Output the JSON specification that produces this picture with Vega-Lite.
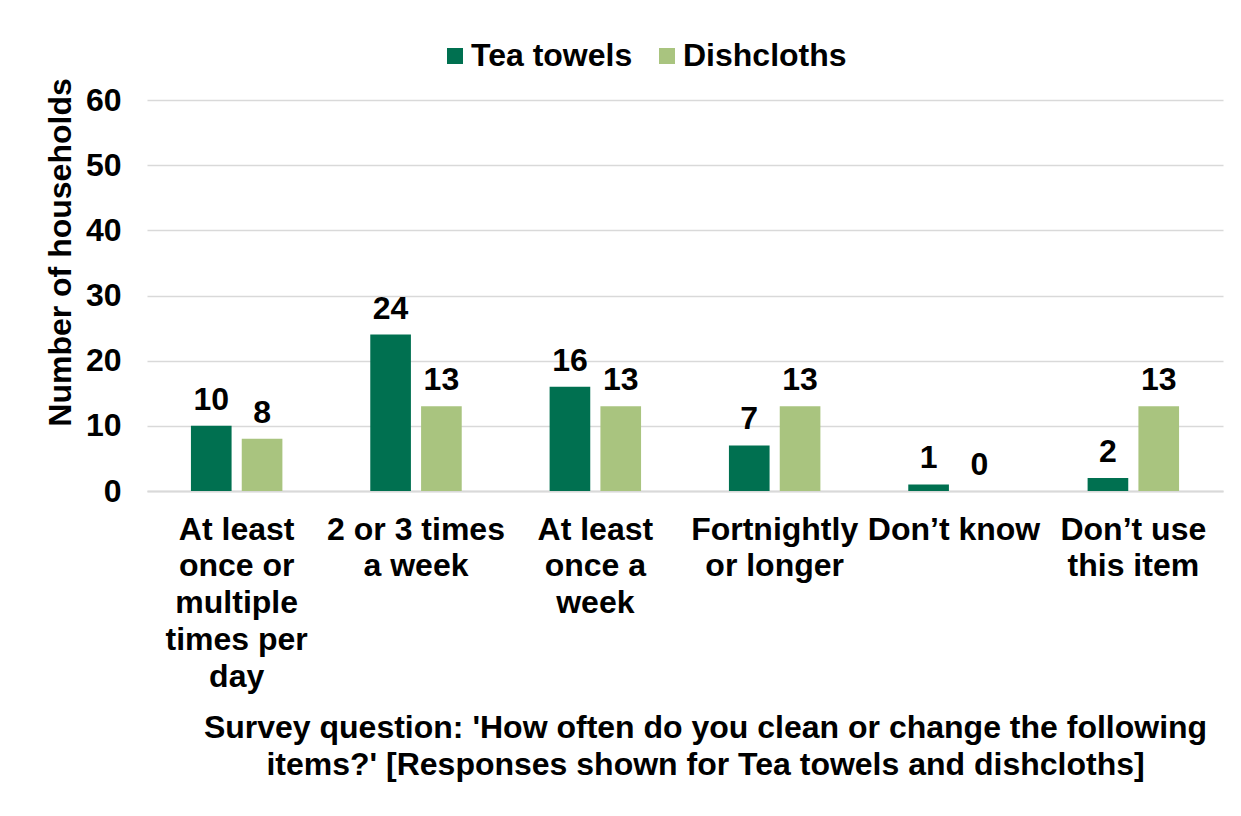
{
  "$schema": "https://vega.github.io/schema/vega-lite/v6.json",
  "width": 1076,
  "height": 391,
  "autosize": {"type": "none"},
  "padding": {"left": 147, "top": 100, "right": 18, "bottom": 325},
  "background": "white",
  "config": {
    "font": "Liberation Sans",
    "view": {"stroke": null},
    "text": {"font": "Liberation Sans"}
  },
  "data": {
    "values": [
      {"freq": "At least|once or|multiple|times per|day", "item": "Tea towels", "n": 10},
      {"freq": "At least|once or|multiple|times per|day", "item": "Dishcloths", "n": 8},
      {"freq": "2 or 3 times|a week", "item": "Tea towels", "n": 24},
      {"freq": "2 or 3 times|a week", "item": "Dishcloths", "n": 13},
      {"freq": "At least|once a|week", "item": "Tea towels", "n": 16},
      {"freq": "At least|once a|week", "item": "Dishcloths", "n": 13},
      {"freq": "Fortnightly|or longer", "item": "Tea towels", "n": 7},
      {"freq": "Fortnightly|or longer", "item": "Dishcloths", "n": 13},
      {"freq": "Don’t know", "item": "Tea towels", "n": 1},
      {"freq": "Don’t know", "item": "Dishcloths", "n": 0},
      {"freq": "Don’t use|this item", "item": "Tea towels", "n": 2},
      {"freq": "Don’t use|this item", "item": "Dishcloths", "n": 13}
    ]
  },
  "encoding": {
    "x": {
      "field": "freq",
      "type": "nominal",
      "sort": null,
      "scale": {"paddingInner": 0.49, "paddingOuter": 0.245},
      "axis": {
        "labelAngle": 0,
        "labelExpr": "split(datum.label, '|')",
        "labelFontSize": 32,
        "labelFontWeight": "bold",
        "labelColor": "black",
        "labelLineHeight": 36.8,
        "labelLimit": 0,
        "labelPadding": 23,
        "ticks": false,
        "domain": true,
        "domainColor": "#d9d9d9",
        "domainWidth": 2,
        "title": ["Survey question: 'How often do you clean or change the following", "items?' [Responses shown for Tea towels and dishcloths]"],
        "titleFontSize": 32,
        "titleFontWeight": "bold",
        "titleColor": "black",
        "titleLineHeight": 37,
        "titleX": 558,
        "titleY": 221,
        "titleAlign": "center",
        "titleBaseline": "top"
      }
    },
    "xOffset": {
      "field": "item",
      "type": "nominal",
      "sort": ["Tea towels", "Dishcloths"],
      "scale": {"paddingInner": 0.2}
    },
    "y": {
      "field": "n",
      "type": "quantitative",
      "scale": {"domain": [0, 60]},
      "axis": {
        "values": [0, 10, 20, 30, 40, 50, 60],
        "grid": true,
        "gridColor": "#d9d9d9",
        "gridWidth": 1.5,
        "domain": false,
        "ticks": false,
        "labelFontSize": 32,
        "labelFontWeight": "bold",
        "labelColor": "black",
        "labelPadding": 26,
        "title": "Number of households",
        "titleFontSize": 32,
        "titleFontWeight": "bold",
        "titleColor": "black",
        "titleX": -70,
        "titleY": 152,
        "titleAngle": -90,
        "titleAlign": "center",
        "titleBaseline": "bottom"
      }
    }
  },
  "layer": [
    {
      "mark": {"type": "bar"},
      "encoding": {
        "color": {
          "field": "item",
          "type": "nominal",
          "sort": ["Tea towels", "Dishcloths"],
          "scale": {"domain": ["Tea towels", "Dishcloths"], "range": ["#007050", "#a9c47f"]},
          "legend": {
            "orient": "none",
            "legendX": 292,
            "legendY": -60,
            "direction": "horizontal",
            "title": null,
            "symbolType": "square",
            "symbolSize": 256,
            "symbolStrokeWidth": 0,
            "labelFontSize": 32,
            "labelFontWeight": "bold",
            "labelColor": "black",
            "labelOffset": 0,
            "labelLimit": 0,
            "columnPadding": 18
          }
        }
      }
    },
    {
      "mark": {"type": "text", "dy": -16, "baseline": "alphabetic", "fontSize": 32, "fontWeight": "bold", "color": "black"},
      "encoding": {"text": {"field": "n", "type": "quantitative"}}
    }
  ]
}
